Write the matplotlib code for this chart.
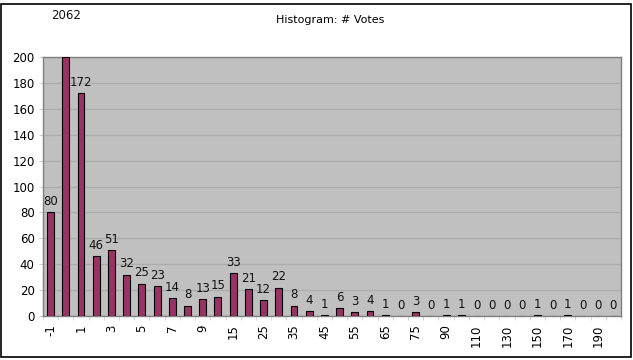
import matplotlib
matplotlib.use("Agg")
import matplotlib.pyplot as plt
import matplotlib.patches as mpatches
import matplotlib.transforms as mtransforms
import numpy as np

categories = ["-1", "0", "1", "2", "3", "4", "5", "6", "7", "8", "9", "10",
              "15", "20", "25", "30", "35", "40", "45", "50", "55", "60", "65",
              "70", "75", "80", "90", "100", "110", "120", "130", "140", "150",
              "160", "170", "180", "190", "200"]
votes = [80, 2062, 172, 46, 51, 32, 25, 23, 14, 8, 13, 15,
         33, 21, 12, 22, 8, 4, 1, 6, 3, 4, 1,
         0, 3, 0, 1, 1, 0, 0, 0, 0, 1,
         0, 1, 0, 0, 0]
title = "Histogram: # Votes"
ymax = 200

fig = plt.figure(figsize=(6.33, 3.6), dpi=100)
ax = fig.add_axes([43/633, 44/360, 578/633, 259/360])
ax.set_facecolor("#c0c0c0")

x = np.arange(len(categories))
ax.bar(x, np.minimum(votes, ymax), width=0.45, color="#993366",
       edgecolor="black", linewidth=0.8, zorder=3)

# value labels, the clipped bar gets its label up top
for xi, v in zip(x, votes):
    if v > ymax:
        trans = mtransforms.blended_transform_factory(ax.transData, ax.transAxes)
        ax.text(xi, 1.16, str(v), transform=trans, ha="center", va="center",
                fontsize=8.5, color="#111111", clip_on=False)
    else:
        ax.annotate(str(v), (xi, v), xytext=(0, 3), textcoords="offset points",
                    ha="center", va="bottom", fontsize=8.5, color="#111111")

ax.set_xlim(-0.5, len(categories) - 0.5)
ax.set_ylim(0, ymax)
ax.set_yticks(np.arange(0, ymax + 1, 20))
ax.yaxis.grid(True, color="#acacac", linewidth=1, zorder=0)
ax.set_axisbelow(True)

ax.set_xticks(x[::2])
ax.set_xticklabels(categories[::2], rotation=90, fontsize=8.5)
ax.set_xticks(np.arange(-0.5, len(categories), 1), minor=True)
ax.tick_params(axis="x", which="major", length=0, pad=6)
ax.tick_params(axis="x", which="minor", length=3, color="#d0d0d0")
ax.tick_params(axis="y", length=3, color="#d0d0d0", labelsize=8.5, pad=3)

for s in ax.spines.values():
    s.set_color("#808080")
    s.set_linewidth(1)

fig.text(330/633, 1 - 20/360, title, ha="center", va="center", fontsize=8)

fig.patches.append(mpatches.Rectangle((1/633, 3/360), 630/633, 353/360,
                                      transform=fig.transFigure, fill=False,
                                      edgecolor="black", linewidth=1.2))

fig.savefig("out.png", dpi=100)
